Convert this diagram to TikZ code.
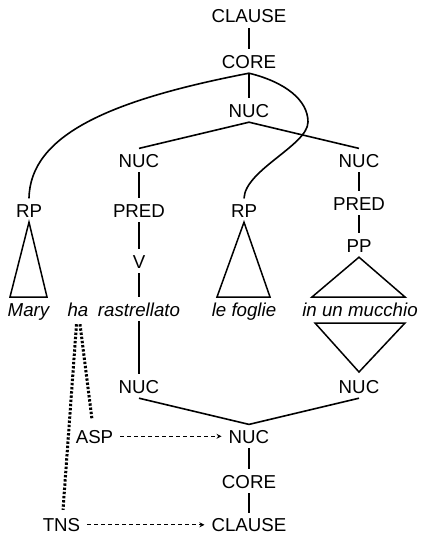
\documentclass[tikz,border=0pt]{standalone}
\usepackage{fontspec}
\setmainfont{Liberation Sans}
\usetikzlibrary{arrows.meta}
\begin{document}
\begin{tikzpicture}[x=1pt,y=-1pt,
  lbl/.style={anchor=base,inner xsep=2pt,inner ysep=5pt,text height=13.4pt,text depth=0pt,
    font=\fontsize{18.7}{20}\selectfont},
  word/.style={lbl,font=\fontsize{18.7}{20}\selectfont\itshape},
  edge/.style={line width=1.6pt},
  tri/.style={line width=1.5pt,line join=miter},
  opline/.style={line width=3pt,dash pattern=on 2.4pt off 1.8pt},
  opdep/.style={line width=0.9pt,dash pattern=on 4pt off 3pt,shorten <=5pt,shorten >=5pt,
    -{Stealth[length=5pt,width=5pt]}}]
\useasboundingbox (0,0) rectangle (420,535);

% constituent projection
\node[lbl] (clause) at (249,23) {CLAUSE};
\node[lbl] (core)   at (249,68) {CORE};
\node[lbl] (nuc)    at (249,117) {NUC};
\node[lbl] (nucl)   at (139,167) {NUC};
\node[lbl] (nucr)   at (359,167) {NUC};
\node[lbl] (rpl)    at (29,217) {RP};
\node[lbl] (predl)  at (139,217) {PRED};
\node[lbl] (rpm)    at (244,217) {RP};
\node[lbl] (predr)  at (359,210) {PRED};
\node[lbl] (v)      at (139,268) {V};
\node[lbl] (pp)     at (359,252) {PP};

% words
\node[word] (mary) at (28.5,316) {Mary};
\node[word] (ha)   at (78,316) {ha};
\node[word] (rast) at (139,316) {rastrellato};
\node[word] (lef)  at (244,316) {le foglie};
\node[word] (inun) at (360,316) {in un mucchio};

% operator projection
\node[lbl] (onucl)   at (139,393) {NUC};
\node[lbl] (onucr)   at (359,393) {NUC};
\node[lbl] (onuc)    at (249,443) {NUC};
\node[lbl] (ocore)   at (249,488) {CORE};
\node[lbl] (oclause) at (249,531.5) {CLAUSE};
\node[lbl] (asp)     at (94.5,443) {ASP};
\node[lbl] (tns)     at (61.5,531.5) {TNS};

% constituent edges
\draw[edge] (clause.south) -- (core.north);
\draw[edge] (core.south) -- (nuc.north);
\draw[edge] (nucl.north) -- (nuc.south) -- (nucr.north);
\draw[edge] (nucl.south) -- (predl.north);
\draw[edge] (predl.south) -- (v.north);
\draw[edge] (v.south) -- (rast.north);
\draw[edge] (nucr.south) -- (predr.north);
\draw[edge] (predr.south) -- (pp.north);
\draw[edge] (core.south) .. controls (110,100) and (30,135) .. (rpl.north);
\draw[edge] (core.south) .. controls (285,82) and (308,100) .. (308,122)
                          .. controls (308,145) and (245,170) .. (rpm.north);

% triangles
\draw[tri] (rpl.south) -- (47,297) -- (10,297) -- cycle;
\draw[tri] (rpm.south) -- (270,297) -- (217,297) -- cycle;
\draw[tri] (pp.south) -- (405,297) -- (312,297) -- cycle;
\coordinate (invtip) at (359,372);
\draw[tri] (315,323) -- (405,323) -- (invtip) -- cycle;

% operator edges
\draw[edge] (rast.south) -- (onucl.north);
\draw[edge] (onucl.south) -- (onuc.north) -- (onucr.south);
\draw[edge] (onuc.south) -- (ocore.north);
\draw[edge] (ocore.south) -- (oclause.north);

% operators linked to the auxiliary
\draw[opline] ([xshift=-1.5pt,yshift=-3pt]ha.south) -- ([xshift=1.5pt,yshift=3pt]tns.north);
\draw[opline] ([xshift=2pt,yshift=-3pt]ha.south) -- ([xshift=-2.5pt,yshift=5pt]asp.north);

% operator scope
\draw[opdep] (asp.east) -- (onuc.west);
\draw[opdep] (tns.east) -- (oclause.west);
\end{tikzpicture}
\end{document}
